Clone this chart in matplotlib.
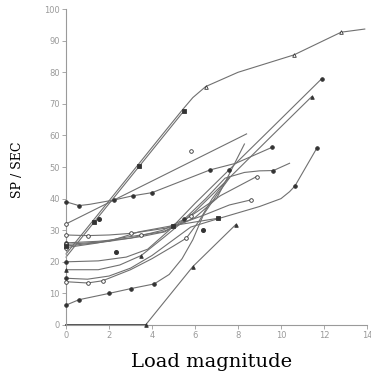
import matplotlib
matplotlib.use('Agg')
import matplotlib.pyplot as plt

# curves: (load, sp/sec) pairs
top_x = [0, 1.5, 3.3, 4.4, 5.4, 5.9, 6.5, 8, 10.6, 12.8, 13.9]
top_y = [22.5, 35.1, 50.3, 59.6, 68, 72, 75.5, 80, 85.5, 92.7, 93.7]

twin_x = [0, 1.3, 3.4, 5.5]
twin_y = [21.5, 32.5, 50.2, 67.9]

line32_x = [0, 8.4]
line32_y = [32, 60.5]

line39_x = [0, 0.6, 1.1, 2.25, 3.1, 4.0, 6.7, 7.9, 9.6]
line39_y = [39, 37.8, 38.2, 39.6, 40.9, 41.9, 49.1, 51.2, 56.3]

b1_x = [0, 1.5, 2.8, 3.8, 4.8, 6, 7.6, 9.5, 11.9]
b1_y = [20, 20.3, 21.5, 24, 30, 38.5, 49.2, 61.9, 78]

b2_x = [0, 1.5, 2.5, 3.5, 4.6, 6, 7.6, 9.5, 11.43]
b2_y = [17.5, 17.5, 19, 22, 28, 35.9, 46.6, 59.4, 72.3]

c_x = [0, 1, 2, 3, 4, 5, 6, 7, 7.5, 8.3]
c_y = [28.5, 28.3, 28.5, 29, 30, 31, 34, 40, 46.5, 57.3]

e_x = [0, 1.5, 3, 4.5, 5.5, 6.5, 7.4, 8.3, 9.0, 9.65, 10.4]
e_y = [26, 26.5, 27.5, 30, 33.5, 40, 46.5, 48.3, 48.8, 48.9, 51.2]

f_x = [0, 2, 3.5, 4.6, 5.8, 7.2, 8.87]
f_y = [25.5, 26.5, 28, 29.5, 34.5, 41, 47]

g_x = [0, 1.5, 2.5, 3.5, 4.5, 5.5, 6.5, 7.6, 8.6]
g_y = [24.5, 26, 27.5, 28.5, 29.5, 32.5, 35, 38, 39.6]

m_x = [0, 2, 3.4, 5, 7.08]
m_y = [25, 26.5, 29.5, 31.5, 33.8]

h_x = [0, 1, 2, 3, 4, 5, 5.8, 7, 8, 9, 10, 10.4, 10.65, 11.67]
h_y = [14.8, 14.5, 15.5, 18, 22, 27, 31, 33.5, 35.5, 37.5, 40, 42.2, 44, 56]

i_x = [0, 1, 1.7, 3, 4, 5, 5.6, 6.2, 6.8, 7.6]
i_y = [13.7, 13.3, 14, 17.5, 21, 25, 27.5, 33, 40, 47]

j_x = [0, 0.6, 2, 3, 4.1, 4.8, 5.4, 5.9, 6.4, 7, 7.6]
j_y = [6.3, 8, 10, 11.5, 13, 16, 21, 27, 35, 41, 46.5]

k_x = [3.7, 5.9, 7.9]
k_y = [0, 18.5, 31.8]

base_x = [0, 3.7]
base_y = [0, 0]

stray_x = [2.33, 6.38, 1.55]
stray_y = [23.2, 30.1, 33.5]
open_x = [5.8]
open_y = [55]

curves = [
    (top_x, top_y, '^', 'none', [6, 8, 9]),
    (twin_x, twin_y, 's', 'dark', [1, 2, 3]),
    (line32_x, line32_y, 'o', 'none', [0]),
    (line39_x, line39_y, 'o', 'dark', [0, 1, 3, 4, 5, 6, 8]),
    (b1_x, b1_y, 'o', 'dark', [0, 6, 8]),
    (b2_x, b2_y, '^', 'dark', [0, 3, 8]),
    (c_x, c_y, 'o', 'none', [0, 1, 3]),
    (e_x, e_y, 'o', 'dark', [0, 4, 9]),
    (f_x, f_y, 'o', 'none', [0, 4, 6]),
    (g_x, g_y, 'o', 'none', [0, 3, 8]),
    (m_x, m_y, 's', 'dark', [0, 3, 4]),
    (h_x, h_y, 'o', 'dark', [0, 12, 13]),
    (i_x, i_y, 'o', 'none', [0, 1, 2, 6]),
    (j_x, j_y, 'o', 'dark', [0, 1, 2, 3, 4]),
    (k_x, k_y, '^', 'dark', [0, 1, 2]),
]

line_col = '#707070'
mark_col = '#333333'
gray = '#9a9a9a'

fig = plt.figure(figsize=(3.71, 3.81), dpi=100)
ax = fig.add_axes([0.178, 0.147, 0.811, 0.829])

for xs, ys, mk, fill, idx in curves:
    ax.plot(xs, ys, color=line_col, lw=0.8, clip_on=False, zorder=2)
    mx = [xs[i] for i in idx]
    my = [ys[i] for i in idx]
    fc = mark_col if fill == 'dark' else 'white'
    ax.plot(mx, my, linestyle='none', marker=mk, ms=2.6, mfc=fc,
            mec=mark_col, mew=0.6, clip_on=False, zorder=3)

ax.plot(base_x, base_y, color='#444444', lw=1.3, clip_on=False, zorder=2)
ax.plot(stray_x, stray_y, linestyle='none', marker='o', ms=2.6, mfc=mark_col,
        mec=mark_col, clip_on=False, zorder=3)
ax.plot(open_x, open_y, linestyle='none', marker='o', ms=2.6, mfc='white',
        mec=mark_col, mew=0.6, clip_on=False, zorder=3)

ax.set_xlim(0, 14)
ax.set_ylim(0, 100)
ax.set_xticks(range(0, 15, 2))
ax.set_yticks(range(0, 101, 10))
for s in ['top', 'right']:
    ax.spines[s].set_visible(False)
for s in ['left', 'bottom']:
    ax.spines[s].set_color(gray)
    ax.spines[s].set_linewidth(0.8)
ax.tick_params(colors=gray, labelsize=6, length=3, width=0.6, pad=1.5)

fig.text(0.046, 0.554, 'SP / SEC', rotation=90, ha='center', va='center',
         family='DejaVu Serif', fontsize=9)
fig.text(0.57, 0.05, 'Load magnitude', ha='center', va='center',
         family='DejaVu Serif', fontsize=14)

fig.savefig('out.png', dpi=100)
